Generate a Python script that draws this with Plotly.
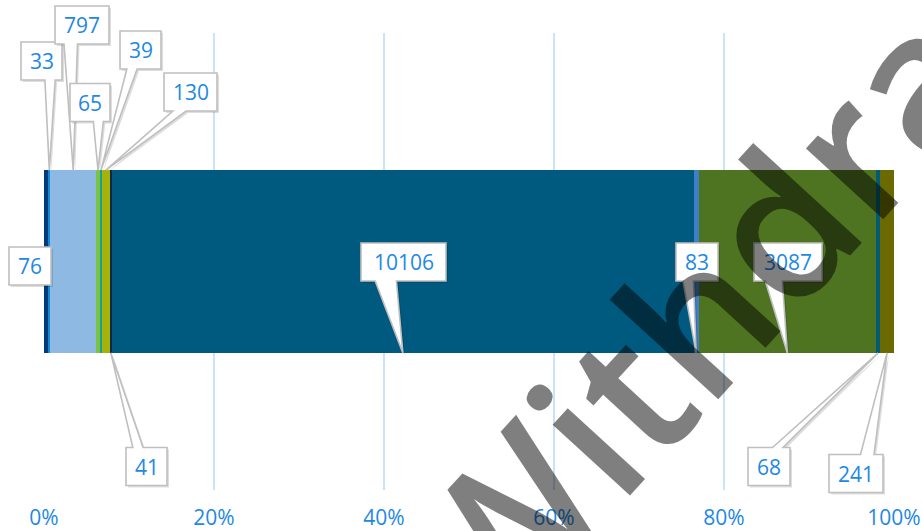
import numpy as np
import plotly.graph_objects as go

# ---------------- data ----------------
values = [76, 33, 797, 65, 39, 130, 41, 10106, 83, 3087, 68, 241]
colors = ['#003A7D', '#138AD6', '#8DB9E3', '#7DC242', '#16A096', '#A6B20C',
          '#14264A', '#005A80', '#3F7FC8', '#4E7421', '#005C73', '#6A6A00']
tick_vals = [0, 20, 40, 60, 80, 100]
tick_text = ['0%', '20%', '40%', '60%', '80%', '100%']

# ---------------- callout layout (pixel centres / widths) ----------------
box_cx = [30, 41.5, 82, 90, 140.5, 190.5, 146.5, 403.5, 697, 788, 769, 856]
box_cy = [266, 61, 25, 102.5, 50, 92, 466.5, 262, 262, 262, 466.5, 473.5]
box_w = [42, 41, 54, 40, 41, 53, 41, 85, 42, 68, 42, 54]
has_wedge = [False] + [True] * 11
BOX_H = 38

# plot-area geometry
W, H = 922, 531
ML, MR, MT, MB = 44, 28, 33, 41
PW, PH = W - ML - MR, H - MT - MB
X_RANGE = (0.0, 100.0)
Y_RANGE = (-0.5, 0.5)
BAR_W = 0.4

LABEL_BLUE = '#1E88E5'
BORDER = '#BFBFBF'
FONT = 'Open Sans'


# data -> pixel (same linear mapping as the axes)
def x_to_px(x):
    return ML + (x - X_RANGE[0]) / (X_RANGE[1] - X_RANGE[0]) * PW


def y_to_py(y):
    return MT + (Y_RANGE[1] - y) / (Y_RANGE[1] - Y_RANGE[0]) * PH


# pixel -> paper
def px_to_paper(px):
    return (px - ML) / PW


def py_to_paper(py):
    return 1.0 - (py - MT) / PH


total = float(np.sum(values))
pct = np.array(values) / total * 100.0
starts = np.concatenate([[0.0], np.cumsum(pct)[:-1]])
mids = starts + pct / 2.0

fig = go.Figure()
for v, p, c in zip(values, pct, colors):
    fig.add_trace(go.Bar(
        x=[p], y=[0], orientation='h', width=BAR_W,
        marker=dict(color=c, line=dict(width=0)),
        name=str(v), hovertemplate=f'{v}<extra></extra>'))

bar_top_py = y_to_py(BAR_W / 2)
bar_bot_py = y_to_py(-BAR_W / 2)


def callout_path(cx, cy, w, h, tip, off=0.0):
    l, r = cx - w / 2 + off, cx + w / 2 + off
    t, b = cy - h / 2 + off, cy + h / 2 + off
    if tip is None:
        pts = [(l, t), (r, t), (r, b), (l, b)]
    else:
        tx, ty = tip[0] + off, tip[1] + off
        dx, dy = tx - (cx + off), ty - (cy + off)
        if abs(dx) / w > abs(dy) / h:
            fr = (1 / 6, 5 / 12) if dy < 0 else (7 / 12, 5 / 6)
            b1, b2 = t + h * fr[0], t + h * fr[1]
            if dx < 0:
                pts = [(l, t), (r, t), (r, b), (l, b), (l, b2), (tx, ty), (l, b1)]
            else:
                pts = [(l, t), (r, t), (r, b1), (tx, ty), (r, b2), (r, b), (l, b)]
        else:
            fr = (1 / 6, 5 / 12) if dx < 0 else (7 / 12, 5 / 6)
            b1, b2 = l + w * fr[0], l + w * fr[1]
            if dy < 0:
                pts = [(l, t), (b1, t), (tx, ty), (b2, t), (r, t), (r, b), (l, b)]
            else:
                pts = [(l, t), (r, t), (r, b), (b2, b), (tx, ty), (b1, b), (l, b)]
    return 'M ' + ' L '.join(f'{px_to_paper(x):.5f},{py_to_paper(y):.5f}' for x, y in pts) + ' Z'


shapes = []
annotations = []
for i, v in enumerate(values):
    tip = None
    if has_wedge[i]:
        tip = (x_to_px(mids[i]), bar_top_py if box_cy[i] < bar_top_py else bar_bot_py)
    shapes.append(dict(type='path', xref='paper', yref='paper',
                       path=callout_path(box_cx[i], box_cy[i], box_w[i], BOX_H, tip, 2),
                       fillcolor='rgba(0,0,0,0.13)', line=dict(width=0), layer='above'))
    shapes.append(dict(type='path', xref='paper', yref='paper',
                       path=callout_path(box_cx[i], box_cy[i], box_w[i], BOX_H, tip),
                       fillcolor='white', line=dict(color=BORDER, width=1.6), layer='above'))
    annotations.append(dict(x=px_to_paper(box_cx[i]), y=py_to_paper(box_cy[i]),
                            xref='paper', yref='paper', xanchor='center', yanchor='middle',
                            text=str(v), showarrow=False,
                            font=dict(family=FONT, size=21, color=LABEL_BLUE)))

# watermark
annotations.append(dict(x=px_to_paper(790), y=py_to_paper(210), xref='paper', yref='paper',
                        xanchor='center', yanchor='middle',
                        text='Withdrawn', showarrow=False, textangle=-47.5,
                        font=dict(family=FONT, size=194, weight=600, color='rgba(0,0,0,0.5)')))

fig.update_layout(
    width=W, height=H,
    margin=dict(l=ML, r=MR, t=MT, b=MB, pad=0, autoexpand=False),
    barmode='stack', bargap=0,
    showlegend=False,
    plot_bgcolor='white', paper_bgcolor='white',
    shapes=shapes, annotations=annotations,
    xaxis=dict(range=list(X_RANGE), tickvals=tick_vals, ticktext=tick_text,
               showgrid=True, gridcolor='#C9E3FA', gridwidth=1.5,
               zeroline=False, showline=False, ticks='',
               tickfont=dict(family=FONT, size=21, color=LABEL_BLUE),
               ticklabelstandoff=13, fixedrange=True, automargin=False),
    yaxis=dict(range=list(Y_RANGE), visible=False, showgrid=False, zeroline=False,
               fixedrange=True, automargin=False),
)

fig.write_html('out.html')
